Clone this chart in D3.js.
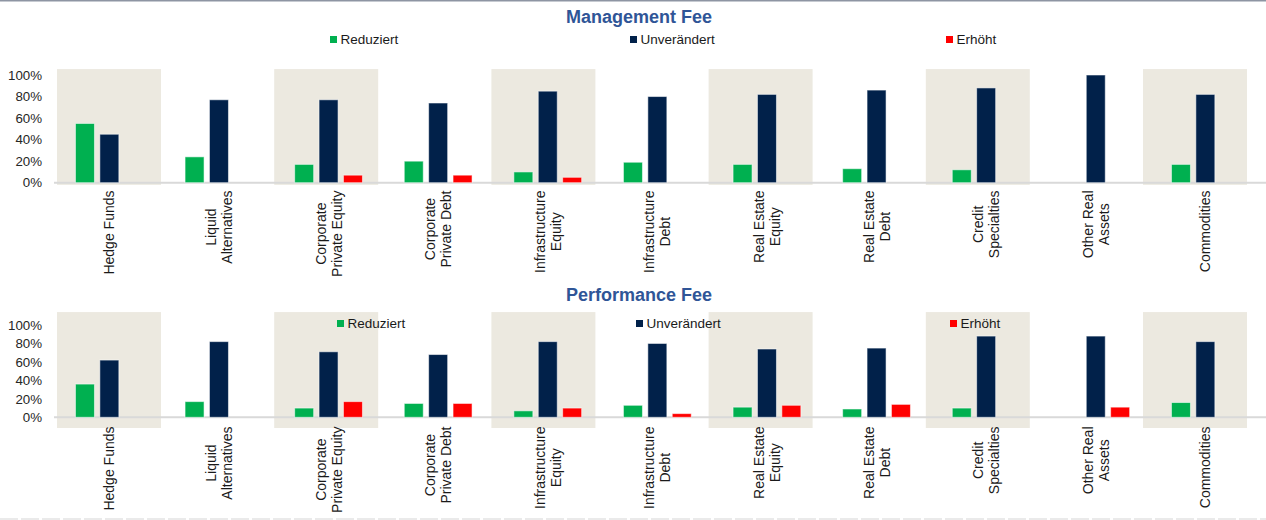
<!DOCTYPE html>
<html>
<head>
<meta charset="utf-8">
<script src="https://cdn.jsdelivr.net/npm/d3@7"></script>
<style>
  html, body { margin: 0; padding: 0; background: #fff; }
  svg { display: block; font-family: "Liberation Sans", Arial, sans-serif; }
</style>
</head>
<body>
<svg id="chart" width="1266" height="520"></svg>
<script>
// ---------- DATA ----------
const categories = [
  "Hedge Funds", "Liquid\nAlternatives", "Corporate\nPrivate Equity", "Corporate\nPrivate Debt",
  "Infrastructure\nEquity", "Infrastructure\nDebt", "Real Estate\nEquity", "Real Estate\nDebt",
  "Credit\nSpecialties", "Other Real\nAssets", "Commodities"
];
const seriesNames = ["Reduziert", "Unverändert", "Erhöht"];
const tickValues = [0, 0.2, 0.4, 0.6, 0.8, 1.0];

const mgmtReduziert   = [55, 24, 17, 20, 10, 19, 17, 13, 12, 0, 17];
const mgmtUnveraendert= [45, 77, 77, 74, 85, 80, 82, 86, 88, 100, 82];
const mgmtErhoeht     = [0, 0, 7, 7, 5, 0, 0, 0, 0, 0, 0];

const perfReduziert   = [36, 17, 10, 15, 7, 13, 11, 9, 10, 0, 16];
const perfUnveraendert= [62, 82, 71, 68, 82, 80, 74, 75, 88, 88, 82];
const perfErhoeht     = [0, 0, 17, 15, 10, 4, 13, 14, 0, 11, 0];

const panelTitles = ["Management Fee", "Performance Fee"];

// ---------- STYLE / LAYOUT ----------
const colors = { "Reduziert": "#00B050", "Unverändert": "#01214A", "Erhöht": "#FF0000" };
const svg = d3.select("#chart");

svg.append("line").attr("x1", 0).attr("x2", 1266).attr("y1", 0.75).attr("y2", 0.75)
  .attr("stroke", "#8e95a3").attr("stroke-width", 1.5);
svg.append("line").attr("x1", 0).attr("x2", 1266).attr("y1", 519).attr("y2", 519)
  .attr("stroke", "#e3e3e3").attr("stroke-width", 1.5).attr("stroke-dasharray", "18,3");

// bar category scale (centres of the bar groups)
const xBars = d3.scaleBand().domain(categories).range([54.55, 1260.15]).padding(0);
// background band scale
const xBg = d3.scaleBand().domain(categories).range([57, 1247]).paddingInner(0.0424).paddingOuter(0);
// series within a category
const xSeries = d3.scaleBand().domain(seriesNames).range([-33.9, 33.9]).paddingInner(0.221).paddingOuter(0);

const panels = [
  { title: panelTitles[0], values: [mgmtReduziert, mgmtUnveraendert, mgmtErhoeht],
    y0: 182.7, y1: 75, bgTop: 1.055, bgBot: -0.02, titleY: 22.5,
    legendY: 39.5, legendX: [330, 630, 946], labelTop: 190.5 },
  { title: panelTitles[1], values: [perfReduziert, perfUnveraendert, perfErhoeht],
    y0: 417.3, y1: 325, bgTop: 1.14, bgBot: -0.116, titleY: 300.5,
    legendY: 323.5, legendX: [337, 636, 950], labelTop: 426.5 }
];

panels.forEach(p => {
  const y = d3.scaleLinear().domain([0, 1]).range([p.y0, p.y1]);
  const g = svg.append("g");

  // shaded alternating bands
  g.selectAll("rect.bg").data(categories.filter((d, i) => i % 2 === 0)).join("rect")
    .attr("class", "bg")
    .attr("x", d => xBg(d)).attr("width", xBg.bandwidth())
    .attr("y", y(p.bgTop)).attr("height", y(p.bgBot) - y(p.bgTop))
    .attr("fill", "#ECE9E0");

  // baseline
  g.append("line").attr("x1", 54).attr("x2", 1266).attr("y1", y(0)).attr("y2", y(0))
    .attr("stroke", "#d9d9d9").attr("stroke-width", 2);

  // y axis
  const ax = g.append("g").attr("transform", "translate(42,0)")
    .call(d3.axisLeft(y).tickValues(tickValues).tickFormat(d3.format(".0%")).tickSize(0).tickPadding(0));
  ax.select(".domain").remove();
  ax.selectAll("text").attr("font-size", "13.3px").attr("fill", "#262626")
    .attr("font-family", "Liberation Sans, Arial, sans-serif");

  // bars
  const rows = [];
  categories.forEach((c, i) => {
    seriesNames.forEach((s, k) => {
      const v = p.values[k][i];
      if (v > 0) rows.push({ c, s, v: v / 100 });
    });
  });
  g.selectAll("rect.bar").data(rows).join("rect")
    .attr("class", "bar")
    .attr("x", d => xBars(d.c) + xBars.bandwidth() / 2 + xSeries(d.s))
    .attr("width", xSeries.bandwidth())
    .attr("y", d => y(d.v)).attr("height", d => y(0) - y(d.v))
    .attr("fill", d => colors[d.s])
    .attr("stroke", "#ffffff").attr("stroke-opacity", 0.55).attr("stroke-width", 1);

  // title
  svg.append("text").attr("x", 639).attr("y", p.titleY).attr("text-anchor", "middle")
    .attr("font-size", "18px").attr("font-weight", "bold").attr("fill", "#2F5597")
    .text(p.title);

  // legend
  seriesNames.forEach((s, k) => {
    svg.append("rect").attr("x", p.legendX[k]).attr("y", p.legendY - 3.5)
      .attr("width", 7).attr("height", 7).attr("fill", colors[s]);
    svg.append("text").attr("x", p.legendX[k] + 10.5).attr("y", p.legendY + 4.8)
      .attr("font-size", "13.5px").attr("fill", "#1a1a1a").text(s);
  });

  // category labels (rotated)
  categories.forEach(c => {
    const lines = c.split("\n");
    const cx = xBars(c) + xBars.bandwidth() / 2;
    const lg = svg.append("g").attr("transform", `translate(${cx},${p.labelTop}) rotate(-90)`);
    const texts = lines.map((ln, k) => lg.append("text")
      .attr("font-size", "14px").attr("fill", "#1a1a1a")
      .attr("text-anchor", "middle")
      .attr("y", (k - (lines.length - 1) / 2) * 16 + 5)
      .text(ln));
    const L = d3.max(texts, t => t.node().getComputedTextLength());
    texts.forEach(t => t.attr("x", -L / 2));
  });
});
</script>
</body>
</html>
